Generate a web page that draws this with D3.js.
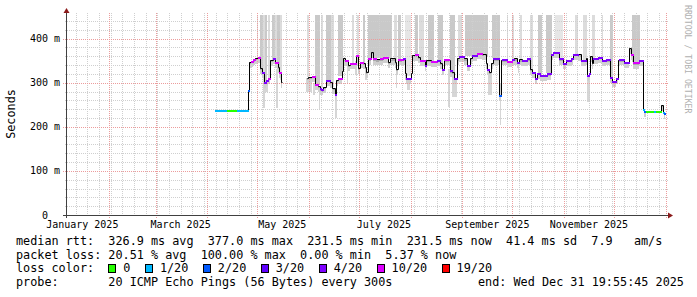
<!DOCTYPE html>
<html>
<head>
<meta charset="utf-8">
<script src="https://cdn.jsdelivr.net/npm/d3@7"></script>
<style>
  body { margin: 0; background: #fff; }
  svg { display: block; }
  text { font-family: "DejaVu Sans Mono", monospace; white-space: pre; }
</style>
</head>
<body>
<div id="chart"></div>
<script>
// Graph window: last 360 days (local time)
var startTime = new Date(2025, 0, 6, 19, 55, 45);
var endTime = new Date(2026, 0, 1, 19, 55, 45);
var yearStart = new Date(2025, 0, 1);

// y axis (milliseconds)
var yMaxMs = 458;
var yTickMs = [0, 100, 200, 300, 400];
var yTickLabels = ["0  ", "100 m", "200 m", "300 m", "400 m"];

// loss colour buckets
var lossLabels = ["0", "1/20", "2/20", "3/20", "4/20", "10/20", "19/20"];
var lossColors = ["#26ff00", "#00b8ff", "#0059ff", "#5e00ff", "#7e00ff", "#dd00ff", "#ff0000"];

// median rtt: day of year 2025 (0 = Jan 1), value in ms (null = no data), loss bucket (-1 = none)
var medDay = [94.6, 98.2, 99.4, 101.8, 106.6, 107.8, 114.3, 115.2, 116.2, 117.4, 118.9, 120.2, 121.6, 122.6, 124.0, 125.5, 126.6, 127.8, 129.3, 130.6, 132.2, 133.0, 134.2, 135.0,
  149.7, 150.6, 152.7, 154.6, 156.4, 157.6, 158.4, 159.4, 161.4, 163.5, 164.8, 166.4, 167.4, 168.4, 170.8, 171.4, 172.5, 174.4, 175.4, 179.4, 180.4, 181.4, 183.4, 184.4, 185.4, 186.4,
  188.0, 189.4, 191.4, 193.4, 195.4, 198.4, 199.4, 202.4, 203.4, 204.4, 207.4, 208.4, 209.4, 212.1, 213.0, 214.5, 216.4, 217.5, 220.5, 221.4, 224.4, 227.8, 229.8, 230.8, 231.9,
  234.8, 235.8, 236.8, 237.8, 239.8, 240.8, 243.8, 245.8, 247.8, 248.8, 251.8, 254.8, 257.4, 257.8, 259.2, 260.4, 261.2, 264.8, 266.2, 266.8, 269.8, 272.8, 273.8, 275.8, 277.2,
  278.8, 281.8, 283.8, 284.8, 286.8, 287.8, 289.8, 293.8, 296.2, 297.3, 301.2, 303.3, 305.2, 308.2, 309.6, 312.2, 314.2, 317.2, 317.8, 319.2, 319.8, 320.8, 321.6, 324.2, 326.8,
  329.2, 331.4, 332.6, 335.2, 336.2, 337.2, 340.2, 343.2, 344.2, 345.2, 349.2, 351.2, 352.2, 353.2, 358.2, 359.2, 362.2, 363.2, 364.2, 364.6];
var medMs = [239, 237, 239, 239, 237, 239, 283, 347, 349, 353, 356, 359, 334, 325, 302, 306, 310, 351, 356, 347, 335, 325, 302, null,
  310, 313, 316, 298, 292, 287, 285, 291, 306, 302, 289, 274, 306, 310, 327, 355, 351, 340, 345, 363, 334, 347, 344, 336, 325, 355,
  370, 355, 353, 355, 359, 347, 355, 347, 332, 353, 355, 321, 310, 321, 363, 364, 359, 351, 340, 351, 350, 351, 344, 332, 353,
  351, 328, 325, 310, 355, 360, 355, 340, 356, 363, 368, 365, 344, 332, 325, 344, 355, 272, 351, 353, 350, 354, 355, 347, 353,
  351, 355, 332, 325, 310, 323, 317, 321, 366, 369, 355, 344, 351, 355, 366, 364, 351, 355, 317, 321, 360, 344, 357, 359, 351,
  353, 313, 304, 310, 351, 353, 347, 378, 366, 346, 351, 240, 236, 236, 236, 236, 249, 234, 232, null];
var medLoss = [1, 1, 1, 0, 0, 1, 2, -1, 5, 5, -1, 5, -1, 4, 4, 4, 5, -1, 4, 5, -1, 5, -1, -1,
  -1, -1, 5, 5, -1, 4, 4, -1, 4, -1, -1, 4, -1, 5, -1, -1, 5, -1, 5, 5, -1, 5, -1, -1, -1, 5,
  -1, 5, -1, 5, 5, -1, -1, -1, -1, 5, 4, -1, 4, -1, -1, 5, -1, 5, 4, -1, 5, 4, -1, 4, 5,
  -1, 4, -1, 4, -1, 4, -1, 4, -1, 4, 5, -1, -1, 4, -1, -1, 4, 2, -1, 4, 5, 4, -1, 4, -1,
  4, 4, -1, 4, 4, 4, 4, 4, 4, 4, 4, 4, 4, 4, 4, -1, 4, -1, 4, 4, -1, -1, 4, 4, 4,
  4, 4, 4, 4, -1, 4, 4, -1, 5, 5, 4, 1, 2, 0, 1, 0, -1, 1, 2, -1];

// smoke reaching the top of the graph: from/to day, lower end (ms), shade
var barFrom = [119.7, 121.5, 123.6, 124.6, 126.6, 128.7, 130.6, 131.8, 133.6, 150.0, 154.6, 158.2, 161.2, 164.2, 168.4, 176.8, 179.8, 183.4, 186.4, 202.0, 204.4, 208.6,
  214.6, 217.0, 222.4, 228.4, 235.6, 240.4, 244.6, 260.8, 269.8, 272.8, 277.6, 283.6, 288.4, 293.0, 298.6, 310.6, 315.4, 320.8, 326.8, 331.6, 344.8];
var barTo = [120.6, 123.6, 124.6, 125.8, 127.6, 130.6, 131.8, 133.6, 134.8, 151.2, 157.6, 159.4, 164.2, 166.0, 171.4, 178.0, 181.0, 184.6, 200.8, 203.8, 206.2, 212.2,
  216.4, 220.0, 226.0, 231.4, 238.6, 242.8, 258.4, 265.6, 270.4, 274.0, 278.8, 285.4, 290.8, 296.8, 303.4, 312.4, 317.8, 322.6, 327.4, 333.4, 349.6];
var barLow = [359, 325, 300, 302, 310, 350, 345, 325, 305, 312, 295, 287, 302, 290, 315, 345, 340, 344, 355, 340, 353, 315,
  362, 350, 350, 345, 320, 358, 360, 355, 350, 353, 351, 330, 320, 321, 355, 364, 351, 357, 351, 305, 346];
var barShade = ["l", "d", "l", "d", "l", "d", "l", "d", "l", "l", "d", "l", "d", "l", "d", "l", "l", "d", "d", "l", "d", "e",
  "d", "l", "d", "d", "d", "l", "d", "d", "l", "l", "l", "l", "d", "d", "e", "l", "l", "l", "l", "d", "d"];
var smokeCeilMs = 453;

// smoke hanging below the median
var dripFrom = [123.4, 124.6, 131.2, 149.2, 153.4, 157.3, 166.6, 173.8, 178.6, 184.6, 203.2, 209.8, 234.4, 236.8, 258.4, 265.6, 276.4, 317.8];
var dripTo = [124.6, 126.4, 132.4, 152.8, 154.6, 157.9, 167.8, 174.4, 179.8, 185.8, 204.1, 211.6, 235.6, 239.8, 260.8, 266.2, 277.0, 319.6];
var dripLow = [242, 279, 242, 280, 272, 238, 220, 299, 317, 306, 288, 283, 245, 268, 272, 204, 321, 256];
var dripHigh = [300, 300, 330, 310, 300, 290, 275, 340, 350, 330, 330, 310, 330, 310, 325, 300, 347, 317];

var statRows = [
  "median rtt:  326.9 ms avg  377.0 ms max  231.5 ms min  231.5 ms now  41.4 ms sd  7.9   am/s",
  "packet loss: 20.51 % avg  100.00 % max  0.00 % min  5.37 % now",
  "loss color:",
  "probe:       20 ICMP Echo Pings (56 Bytes) every 300s"
];
var endLabel = "end: Wed Dec 31 19:55:45 2025";

var width = 697, height = 297;
var plot = { left: 67, right: 667, top: 13, bottom: 215 };

var svg = d3.select("#chart").append("svg")
  .attr("width", width)
  .attr("height", height);

svg.append("rect").attr("width", width).attr("height", height).attr("fill", "#fff");

var x = d3.scaleTime().domain([startTime, endTime]).range([plot.left, plot.right]);
var y = d3.scaleLinear().domain([0, yMaxMs]).range([plot.bottom, plot.top]);

function dayDate(d) {
  return new Date(yearStart.getTime() + d * 864e5);
}
function xd(d) { return Math.round(x(dayDate(d))); }
function crisp(v) { return Math.round(v) + 0.5; }

var shadeColor = { d: "#c9c9c9", l: "#dcdcdc", e: "#e6e6e6" };

// smoke
var smoke = svg.append("g").attr("shape-rendering", "crispEdges");

smoke.selectAll("rect.bar")
  .data(d3.range(barFrom.length))
  .join("rect")
  .attr("class", "bar")
  .attr("x", i => xd(barFrom[i]))
  .attr("width", i => Math.max(1, xd(barTo[i]) - xd(barFrom[i])))
  .attr("y", y(smokeCeilMs))
  .attr("height", i => y(barLow[i]) - y(smokeCeilMs))
  .attr("fill", i => shadeColor[barShade[i]]);

smoke.selectAll("rect.drip")
  .data(d3.range(dripFrom.length))
  .join("rect")
  .attr("class", "drip")
  .attr("x", i => xd(dripFrom[i]))
  .attr("width", i => Math.max(1, xd(dripTo[i]) - xd(dripFrom[i])))
  .attr("y", i => y(dripHigh[i]))
  .attr("height", i => y(dripLow[i]) - y(dripHigh[i]))
  .attr("fill", "#d6d6d6");

// steps of the median (one per consolidated value)
var steps = d3.range(medDay.length - 1)
  .filter(i => medMs[i] != null)
  .map(i => ({ i: i, x0: xd(medDay[i]), x1: xd(medDay[i + 1]), v: medMs[i], loss: medLoss[i] }));

// smoke band just under the median (tight where there was no loss)
var band = steps.filter(s => s.loss > 1 || s.loss < 0);
smoke.selectAll("rect.band2")
  .data(band)
  .join("rect")
  .attr("x", s => s.x0)
  .attr("width", s => s.x1 - s.x0)
  .attr("y", s => y(s.v))
  .attr("height", s => y(s.v - 14) - y(s.v))
  .attr("fill", "#d0d0d0");
smoke.selectAll("rect.band1")
  .data(band)
  .join("rect")
  .attr("x", s => s.x0)
  .attr("width", s => s.x1 - s.x0)
  .attr("y", s => y(s.v))
  .attr("height", s => y(s.v - 5) - y(s.v))
  .attr("fill", "#ababab");

// grid
var grid = svg.append("g");
var minorY = d3.range(20, yMaxMs, 20).filter(v => v % 100 !== 0);
grid.selectAll("line.hmin").data(minorY).join("line")
  .attr("x1", plot.left - 2).attr("x2", plot.right + 1)
  .attr("y1", v => crisp(y(v))).attr("y2", v => crisp(y(v)))
  .attr("stroke", "#cfcfcf").attr("stroke-dasharray", "1,1");
grid.selectAll("line.vmin").data(d3.timeSunday.range(startTime, endTime)).join("line")
  .attr("x1", d => crisp(x(d))).attr("x2", d => crisp(x(d)))
  .attr("y1", plot.top).attr("y2", plot.bottom + 2)
  .attr("stroke", "#cfcfcf").attr("stroke-dasharray", "1,1");
grid.selectAll("line.hmaj").data(yTickMs.slice(1)).join("line")
  .attr("x1", plot.left - 4).attr("x2", plot.right + 1)
  .attr("y1", v => crisp(y(v))).attr("y2", v => crisp(y(v)))
  .attr("stroke", "#ec9c9c").attr("stroke-dasharray", "1,1");
grid.selectAll("line.vmaj").data(d3.timeMonth.range(startTime, endTime)).join("line")
  .attr("x1", d => crisp(x(d))).attr("x2", d => crisp(x(d)))
  .attr("y1", plot.top).attr("y2", plot.bottom + 3)
  .attr("stroke", "#ec9c9c").attr("stroke-dasharray", "1,1");

// median line (black steps)
var linePts = [];
d3.range(medDay.length - 1).forEach(function (i) {
  if (medMs[i] == null) { linePts.push(null); return; }
  linePts.push([xd(medDay[i]) + 0.5, crisp(y(medMs[i]))]);
  linePts.push([xd(medDay[i + 1]) + 0.5, crisp(y(medMs[i]))]);
});
svg.append("path")
  .attr("d", d3.line().defined(p => p != null).x(p => p[0]).y(p => p[1])(linePts))
  .attr("fill", "none")
  .attr("stroke", "#000")
  .attr("stroke-width", 1);

// loss coloured segments
svg.append("g").attr("shape-rendering", "crispEdges").selectAll("line")
  .data(steps.filter(s => s.loss >= 0))
  .join("line")
  .attr("x1", s => s.x0).attr("x2", s => s.x1 + 1)
  .attr("y1", s => crisp(y(s.v))).attr("y2", s => crisp(y(s.v)))
  .attr("stroke", s => lossColors[s.loss])
  .attr("stroke-width", 2);

// axes
var axis = svg.append("g");
axis.append("line")
  .attr("x1", plot.left - 4).attr("x2", plot.right + 1)
  .attr("y1", plot.bottom + 0.5).attr("y2", plot.bottom + 0.5)
  .attr("stroke", "#404040");
axis.append("line")
  .attr("x1", plot.left - 0.5).attr("x2", plot.left - 0.5)
  .attr("y1", plot.bottom + 3).attr("y2", plot.top - 1)
  .attr("stroke", "#404040");
axis.append("path")
  .attr("d", "M" + (plot.left - 3.5) + "," + (plot.top) + "L" + (plot.left + 2.5) + "," + (plot.top) + "L" + (plot.left - 0.5) + "," + (plot.top - 5) + "Z")
  .attr("fill", "#8b1a1a");
axis.append("path")
  .attr("d", "M" + (plot.right + 1) + "," + (plot.bottom - 2.5) + "L" + (plot.right + 1) + "," + (plot.bottom + 3.5) + "L" + (plot.right + 6) + "," + (plot.bottom + 0.5) + "Z")
  .attr("fill", "#8b1a1a");

// y tick labels
axis.selectAll("text.ytick").data(yTickMs).join("text")
  .attr("x", 60)
  .attr("y", v => y(v))
  .attr("dy", "0.35em")
  .attr("text-anchor", "end")
  .style("font-size", "10px")
  .attr("fill", "#000")
  .text((v, i) => yTickLabels[i]);

// x labels: centred in the middle of every second month
var labelMonths = d3.timeMonth.every(2).range(d3.timeMonth.floor(startTime), endTime)
  .filter(m => d3.timeDay.offset(m, 15) > startTime && d3.timeDay.offset(m, 15) < endTime);
var monthFmt = d3.timeFormat("%B %Y");
axis.selectAll("text.xtick").data(labelMonths).join("text")
  .attr("x", m => x(d3.timeDay.offset(m, 15)))
  .attr("y", 228)
  .attr("text-anchor", "middle")
  .style("font-size", "10px")
  .attr("fill", "#000")
  .text(m => monthFmt(m));

// vertical label and watermark
svg.append("text")
  .attr("transform", "translate(15,114) rotate(-90)")
  .attr("text-anchor", "middle")
  .style("font-size", "11.8px")
  .text("Seconds");
svg.append("text")
  .attr("transform", "translate(685,5) rotate(90)")
  .style("font-size", "8.2px")
  .attr("fill", "#b0b0b0")
  .text("RRDTOOL / TOBI OETIKER");

// legend
var rowY = [245.3, 258.7, 272.3, 286];
var leg = svg.append("g").style("font-size", "11.8px").attr("fill", "#000");
statRows.forEach(function (s, i) {
  leg.append("text").attr("x", 16).attr("y", rowY[i]).text(s);
});
leg.append("text").attr("x", 478).attr("y", rowY[3]).text(endLabel);

var lx = 108.3;
lossLabels.forEach(function (lab, i) {
  leg.append("rect")
    .attr("x", Math.round(lx) + 0.5).attr("y", 264.5)
    .attr("width", 7).attr("height", 8)
    .attr("fill", lossColors[i])
    .attr("stroke", "#000");
  var t = leg.append("text").attr("x", lx + 15).attr("y", rowY[2]).text(lab);
  lx = lx + 15 + t.node().getComputedTextLength() + 14.5;
});
</script>
</body>
</html>
